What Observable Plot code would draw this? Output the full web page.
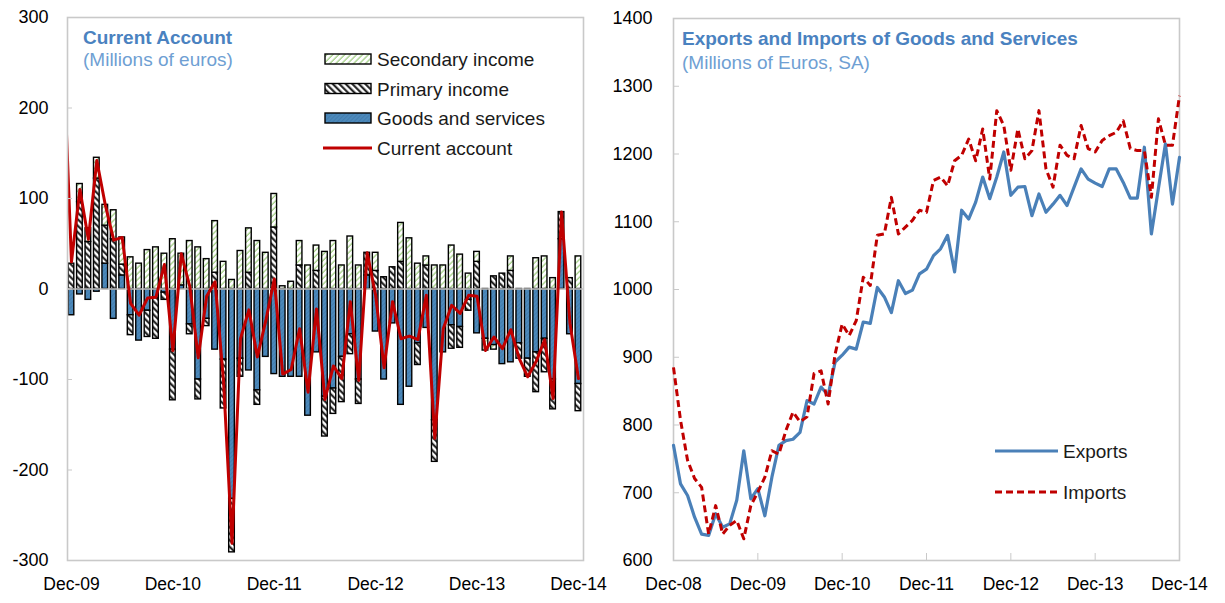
<!DOCTYPE html>
<html>
<head>
<meta charset="utf-8">
<script src="https://cdn.jsdelivr.net/npm/d3@7"></script>
<script src="https://cdn.jsdelivr.net/npm/@observablehq/plot@0.6"></script>
<style>
  body { margin: 0; background: #fff; }
  #wrap { position: relative; width: 1225px; height: 603px; font-family: "Liberation Sans", Arial, sans-serif; }
  #left { position: absolute; left: 0; top: 0; }
  #right { position: absolute; left: 600px; top: 0; }
  #overlay { position: absolute; left: 0; top: 0; pointer-events: none; }
</style>
</head>
<body>
<div id="wrap">
  <div id="left"></div>
  <div id="right"></div>
  <svg id="overlay" width="1225" height="603" font-family="Liberation Sans, Arial, sans-serif">
    <defs>
      <pattern id="pSecondary" patternUnits="userSpaceOnUse" width="4.2" height="4.2" patternTransform="rotate(45)">
        <rect width="4.2" height="4.2" fill="#ffffff"/>
        <line x1="1" y1="0" x2="1" y2="4.2" stroke="#92c66f" stroke-width="1.1"/>
      </pattern>
      <pattern id="pPrimary" patternUnits="userSpaceOnUse" width="4.6" height="4.6" patternTransform="rotate(-45)">
        <rect width="4.6" height="4.6" fill="#ffffff"/>
        <line x1="1.2" y1="0" x2="1.2" y2="4.6" stroke="#111" stroke-width="2"/>
      </pattern>
      <pattern id="pGoods" patternUnits="userSpaceOnUse" width="3" height="3" patternTransform="rotate(45)">
        <rect width="3" height="3" fill="#4c89ba"/>
        <line x1="0.5" y1="0" x2="0.5" y2="3" stroke="#4079aa" stroke-width="0.7"/>
      </pattern>
    </defs>
    <g id="ov"></g>
  </svg>
</div>
<script>
// ---------------- Left panel data: Current Account (millions of euros), Dec-09 .. Dec-14 ----------------
const leftTickLabels = ["Dec-09", "Dec-10", "Dec-11", "Dec-12", "Dec-13", "Dec-14"];
const leftYTicks = [-300, -200, -100, 0, 100, 200, 300];

const goodsServices = [
  -29, -6, -12, -3, 28, -33, 15, -29, -57, -24, -10, -4, -67,
  4, -39, -100, -33, -67, -78, -232, -77, -90, -112, -75, -94,
  -97, -97, -97, -140, -70, -119, -110, -75, -50, -100, 15, -47,
  -100, -38, -128, -108, -60, -43, -145, -70, -40, -42, -12, -49,
  -55, -62, -83, -81, -60, -77, -70, -55, -100, 55, -50, -105
];
const primaryIncome = [
  28, 96, 52, 122, 42, 55, 12, -22, 0, -29, -45, -8, -56,
  0, -11, -22, -8, 18, -54, -59, -20, 18, -16, 0, 68,
  0, 0, 26, 0, 20, -44, -28, -50, -22, -27, 25, 20,
  13, 24, 30, 0, -24, 26, -46, 0, -26, -23, -12, 30,
  0, 14, 17, 20, -17, -20, -44, -37, -33, 30, 12, -30
];
const secondaryIncome = [
  0, 20, 15, 23, 23, 32, 30, 35, 28, 43, 46, 39, 55,
  35, 53, 46, 33, 57, 30, 10, 42, 49, 53, 40, 37,
  3, 8, 27, 26, 28, 41, 53, 26, 58, 26, 0, 20,
  0, 0, 43, 56, 28, 10, 26, 26, 48, 38, 17, 11,
  -13, -5, 0, 16, 0, 0, 34, 36, 12, 0, 0, 36
];
// Current account line; the series begins one month before the first bar (Nov-09)
const currentAccountNov09 = 270;
const currentAccount = [
  30, 110, 55, 142, 93, 54, 57, -16, -29, -10, -9, 27, -68,
  39, 3, -76, -8, 8, -102, -281, -55, -23, -75, -35, 11,
  -94, -89, -44, -114, -22, -122, -85, -99, -14, -101, 40, -7,
  -87, -14, -55, -52, -56, -7, -165, -44, -18, -27, -7, -8,
  -68, -53, -66, -45, -77, -97, -80, -56, -121, 85, -38, -99
];

// ---------------- Right panel data: Exports and Imports (millions of euros, SA), Dec-08 .. Dec-14 ----------------
const rightTickLabels = ["Dec-08", "Dec-09", "Dec-10", "Dec-11", "Dec-12", "Dec-13", "Dec-14"];
const rightYTicks = [600, 700, 800, 900, 1000, 1100, 1200, 1300, 1400];
const exportsSA = [
  770, 713, 696, 664, 639, 637, 669, 649, 654, 689, 762, 691, 706,
  666, 723, 770, 777, 779, 789, 836, 831, 856, 844, 893, 903,
  915, 912, 952, 950, 1003, 989, 966, 1013, 994, 999, 1023, 1030,
  1050, 1060, 1080, 1026, 1117, 1104, 1129, 1166, 1134, 1166, 1203, 1139,
  1151, 1152, 1109, 1141, 1114, 1126, 1139, 1124, 1151, 1178, 1163, 1157,
  1152, 1178, 1178, 1158, 1135, 1135, 1210, 1082, 1149, 1215, 1126, 1195
];
const importsSA = [
  885, 807, 748, 721, 708, 639, 681, 639, 652, 659, 632, 681, 701,
  723, 762, 757, 792, 819, 805, 812, 876, 880, 831, 905, 949,
  932, 954, 1018, 1006, 1080, 1082, 1136, 1082, 1092, 1102, 1117, 1114,
  1161, 1166, 1153, 1190, 1198, 1222, 1190, 1237, 1163, 1264, 1242, 1176,
  1237, 1193, 1205, 1264, 1178, 1151, 1213, 1198, 1193, 1242, 1208, 1203,
  1220, 1227, 1232, 1249, 1208, 1205, 1205, 1136, 1252, 1213, 1213, 1286
];

// ---------------- Build tables ----------------
const seriesKeys = ["Goods and services", "Primary income", "Secondary income"];
const seriesFills = ["url(#pGoods)", "url(#pPrimary)", "url(#pSecondary)"];
const barRows = [];
[goodsServices, primaryIncome, secondaryIncome].forEach((arr, s) => {
  arr.forEach((v, i) => barRows.push({i, series: seriesKeys[s], value: v}));
});
const caRows = [{i: -1, value: currentAccountNov09}, ...currentAccount.map((v, i) => ({i, value: v}))];
const expRows = exportsSA.map((v, i) => ({i, value: v}));
const impRows = importsSA.map((v, i) => ({i, value: v}));

const font = "Liberation Sans, Arial, sans-serif";
const gridGray = "#c9c9c9";
const plain = d => String(d);

const left = Plot.plot({
  width: 600, height: 603,
  marginLeft: 67, marginRight: 17, marginTop: 17, marginBottom: 43,
  style: {fontFamily: font, fontSize: "17px", color: "#000", background: "transparent", overflow: "visible"},
  x: {domain: [-0.47, 60.6]},
  y: {domain: [-300, 300]},
  color: {domain: seriesKeys, range: seriesFills},
  marks: [
    Plot.rectY(barRows, {
      x1: d => d.i - 0.5, x2: d => d.i + 0.5, y: "value", fill: "series",
      stroke: "#000", strokeWidth: 1.4, insetLeft: 1.4, insetRight: 1.4
    }),
    Plot.ruleY([0], {stroke: "#c4c4c4", strokeWidth: 1.6}),
    Plot.line(caRows, {x: "i", y: "value", stroke: "#c00000", strokeWidth: 3, clip: true}),
    Plot.frame({stroke: gridGray, strokeWidth: 1.6}),
    Plot.axisY(leftYTicks, {tickSize: 0, tickPadding: 19, fontSize: 18, label: null, tickFormat: plain}),
    Plot.axisY(leftYTicks, {tickSize: -5, text: null, stroke: gridGray, label: null}),
    Plot.axisX([0, 12, 24, 36, 48, 60], {tickSize: 0, tickPadding: 17, fontSize: 17.5, label: null,
      tickFormat: d => leftTickLabels[d / 12]})
  ]
});
document.getElementById("left").appendChild(left);

const right = Plot.plot({
  width: 625, height: 603,
  marginLeft: 73, marginRight: 46, marginTop: 18, marginBottom: 43,
  style: {fontFamily: font, fontSize: "17px", color: "#000", background: "transparent", overflow: "visible"},
  x: {domain: [0, 72]},
  y: {domain: [600, 1400]},
  marks: [
    Plot.frame({stroke: gridGray, strokeWidth: 1.6}),
    Plot.axisY(rightYTicks, {tickSize: 0, tickPadding: 21, fontSize: 18, label: null, tickFormat: plain}),
    Plot.axisY(rightYTicks, {tickSize: -6, text: null, stroke: gridGray, label: null}),
    Plot.axisX([0, 12, 24, 36, 48, 60, 72], {tickSize: 0, tickPadding: 17, fontSize: 17.5, label: null,
      tickFormat: d => rightTickLabels[d / 12]}),
    Plot.axisX([12, 24, 36, 48, 60], {tickSize: -7, text: null, stroke: gridGray, label: null}),
    Plot.line(expRows, {x: "i", y: "value", stroke: "#4a80b8", strokeWidth: 3.2}),
    Plot.line(impRows, {x: "i", y: "value", stroke: "#c00000", strokeWidth: 3, strokeDasharray: "7,4", strokeLinecap: "butt"})
  ]
});
document.getElementById("right").appendChild(right);

// ---------------- Titles and legends (overlay text) ----------------
const ov = d3.select("#ov");
function label(x, y, txt, opts = {}) {
  ov.append("text").attr("x", x).attr("y", y).text(txt)
    .attr("font-size", opts.size || 19).attr("font-weight", opts.weight || "normal")
    .attr("fill", opts.color || "#1a1a1a");
}
label(83, 44, "Current Account", {weight: "bold", color: "#4a82c0"});
label(83, 66, "(Millions of euros)", {color: "#6f9fd3"});
label(682, 45, "Exports and Imports of Goods and Services", {weight: "bold", color: "#4a82c0"});
label(682, 69, "(Millions of Euros, SA)", {color: "#6f9fd3"});

const legendLeft = [
  {name: "Secondary income", fill: "url(#pSecondary)"},
  {name: "Primary income", fill: "url(#pPrimary)"},
  {name: "Goods and services", fill: "url(#pGoods)"}
];
legendLeft.forEach((d, k) => {
  const cy = 59 + k * 29.5;
  ov.append("rect").attr("x", 325).attr("y", cy - 5).attr("width", 46).attr("height", 10)
    .attr("fill", d.fill).attr("stroke", "#000").attr("stroke-width", 1.4);
  label(377, cy + 7, d.name);
});
ov.append("line").attr("x1", 323).attr("x2", 372).attr("y1", 148).attr("y2", 148)
  .attr("stroke", "#c00000").attr("stroke-width", 3);
label(377, 155, "Current account");

ov.append("line").attr("x1", 995).attr("x2", 1058).attr("y1", 451).attr("y2", 451)
  .attr("stroke", "#4a80b8").attr("stroke-width", 3.2);
label(1063, 458, "Exports");
ov.append("line").attr("x1", 995).attr("x2", 1058).attr("y1", 492).attr("y2", 492)
  .attr("stroke", "#c00000").attr("stroke-width", 3).attr("stroke-dasharray", "7,4");
label(1063, 499, "Imports");
</script>
</body>
</html>
